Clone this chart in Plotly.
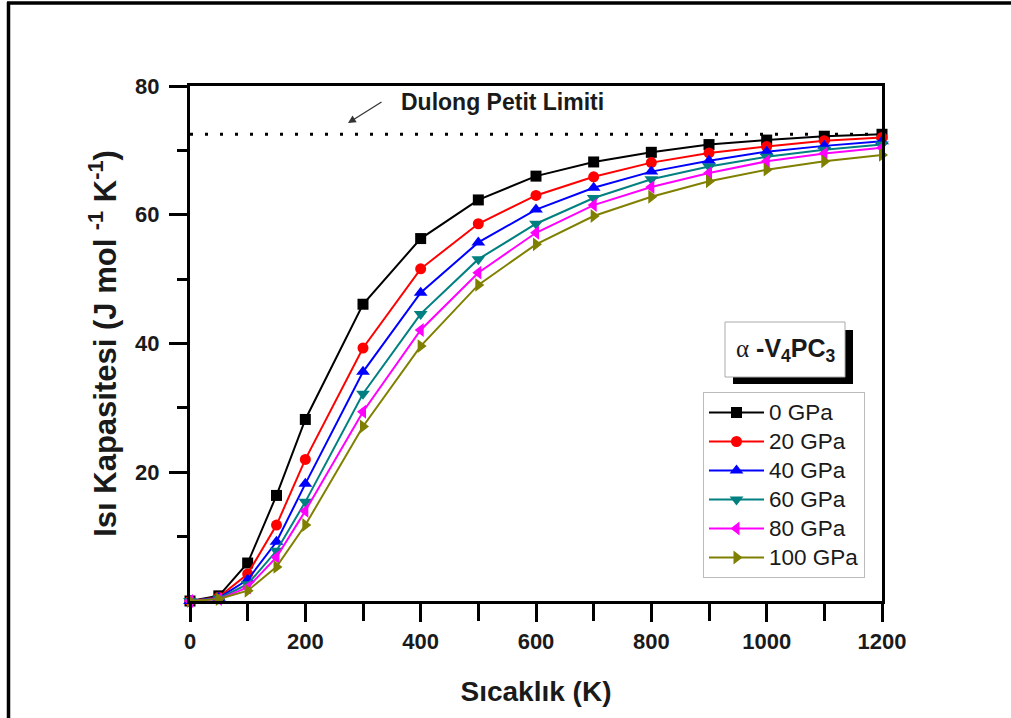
import plotly.graph_objects as go

# Temperature grid (K)
temperature = [0, 50, 100, 150, 200, 300, 400, 500, 600, 700, 800, 900, 1000, 1100, 1200]

# Heat capacity (J mol^-1 K^-1) at each pressure
cv_0gpa = [0, 0.8, 5.9, 16.4, 28.2, 46.1, 56.3, 62.3, 66.0, 68.2, 69.7, 70.9, 71.6, 72.2, 72.5]
cv_20gpa = [0, 0.6, 4.2, 11.8, 22.0, 39.3, 51.6, 58.6, 63.0, 65.9, 68.1, 69.6, 70.6, 71.5, 72.0]
cv_40gpa = [0, 0.5, 3.3, 9.2, 18.2, 35.6, 47.9, 55.7, 60.8, 64.2, 66.7, 68.4, 69.8, 70.7, 71.4]
cv_60gpa = [0, 0.4, 2.6, 7.8, 15.4, 32.2, 44.6, 53.1, 58.6, 62.6, 65.5, 67.5, 69.0, 70.1, 70.9]
cv_80gpa = [0, 0.3, 2.1, 6.8, 14.0, 29.4, 42.1, 51.0, 57.2, 61.5, 64.3, 66.5, 68.3, 69.5, 70.4]
cv_100gpa = [0, 0.3, 1.6, 5.3, 11.8, 27.1, 39.6, 49.1, 55.4, 59.8, 62.8, 65.2, 67.0, 68.3, 69.3]

series_labels = ["0 GPa", "20 GPa", "40 GPa", "60 GPa", "80 GPa", "100 GPa"]
dulong_petit = 72.5

x_tick_vals = [0, 200, 400, 600, 800, 1000, 1200]
x_minor_vals = [100, 300, 500, 700, 900, 1100]
y_tick_vals = [20, 40, 60, 80]
y_minor_vals = [10, 30, 50, 70]

series = [cv_0gpa, cv_20gpa, cv_40gpa, cv_60gpa, cv_80gpa, cv_100gpa]
colors = ["#000000", "#FF0000", "#0000FF", "#008080", "#FF00FF", "#808000"]
symbols = ["square", "circle", "triangle-up", "triangle-down", "triangle-left", "triangle-right"]
sizes = [11, 11, 12, 12, 12, 12]

W, H = 1011, 718
L, R, T, B = 190, 882, 86, 601
FONT = "Liberation Sans, Arial, sans-serif"


def px_x(p):
    return (p - L) / (R - L)


def px_y(p):
    return (B - p) / (B - T)


fig = go.Figure()

fig.add_trace(go.Scatter(
    x=[0, 1200], y=[dulong_petit, dulong_petit], mode="lines",
    line=dict(color="black", width=3, dash="3px,12px"),
    showlegend=False, hoverinfo="skip",
))

for vals, name, c, s, sz in zip(series, series_labels, colors, symbols, sizes):
    fig.add_trace(go.Scatter(
        x=temperature, y=vals,
        name=f'<span style="font-size:22.5px">{name}</span>',
        mode="lines+markers",
        line=dict(color=c, width=2),
        marker=dict(symbol=s, size=sz, color=c, line=dict(width=0)),
        cliponaxis=False,
    ))

axis_common = dict(
    showline=True, linecolor="black", linewidth=3, mirror=True,
    ticks="outside", tickcolor="black", tickwidth=3, ticklen=18,
    showgrid=False, zeroline=False,
    tickfont=dict(family=FONT, size=22, color="#1a1a1a", weight="bold"),
)

fig.update_xaxes(
    range=[0, 1200], tickmode="array", tickvals=x_tick_vals,
    ticklabelstandoff=1,
    minor=dict(tickmode="array", tickvals=x_minor_vals, ticks="outside", ticklen=17,
               tickwidth=3, tickcolor="black"),
    title=dict(text="<b>Sıcaklık (K)</b>", font=dict(family=FONT, size=28, color="#1a1a1a"), standoff=28),
    **axis_common,
)
fig.update_yaxes(
    range=[0, 80], tickmode="array", tickvals=y_tick_vals,
    ticklabelstandoff=5,
    minor=dict(tickmode="array", tickvals=y_minor_vals, ticks="outside", ticklen=10,
               tickwidth=3, tickcolor="black"),
    title=dict(text="<b>Isı Kapasitesi (J mol <sup>-1</sup> K<sup>-1</sup>)</b>",
               font=dict(family=FONT, size=31, color="#1a1a1a"), standoff=10),
    **axis_common,
)

shapes = [
    # outer frame (top and left edges)
    dict(type="line", xref="paper", yref="paper", x0=px_x(7), x1=px_x(1015), y0=px_y(3), y1=px_y(3),
         line=dict(color="black", width=3.5)),
    dict(type="line", xref="paper", yref="paper", x0=px_x(8.5), x1=px_x(8.5), y0=px_y(2), y1=px_y(722),
         line=dict(color="black", width=3.5)),
    # compound label box with drop shadow
    dict(type="rect", xref="paper", yref="paper", x0=px_x(733), x1=px_x(853), y0=px_y(330), y1=px_y(384),
         fillcolor="black", line=dict(width=0), layer="above"),
    dict(type="rect", xref="paper", yref="paper", x0=px_x(725), x1=px_x(845), y0=px_y(322), y1=px_y(377),
         fillcolor="white", line=dict(color="#aaaaaa", width=1), layer="above"),
]

annotations = [
    dict(xref="paper", yref="paper", x=px_x(786), y=px_y(350),
         text='<span style="font-family:Liberation Serif, Times New Roman, serif">α</span>'
              '<b> -V<sub>4</sub>PC<sub>3</sub></b>',
         showarrow=False, font=dict(family=FONT, size=25, color="#1a1a1a"),
         xanchor="center", yanchor="middle"),
    dict(xref="paper", yref="paper", x=px_x(502), y=px_y(102),
         text="<b>Dulong Petit Limiti</b>", showarrow=False,
         font=dict(family=FONT, size=23, color="#1a1a1a"), xanchor="center", yanchor="middle"),
    dict(xref="paper", yref="paper", x=px_x(348), y=px_y(123), text="",
         showarrow=True, arrowhead=2, arrowsize=1.3, arrowwidth=1.2, arrowcolor="#333333",
         ax=35, ay=-22),
]

fig.update_layout(
    width=W, height=H,
    margin=dict(l=L, r=W - R, t=T, b=H - B),
    paper_bgcolor="white", plot_bgcolor="white",
    shapes=shapes, annotations=annotations,
    showlegend=True,
    legend=dict(
        x=px_x(703), y=px_y(392), xanchor="left", yanchor="top",
        bordercolor="#bbbbbb", borderwidth=1, bgcolor="white",
        font=dict(family=FONT, size=20, color="#1a1a1a"),
        itemwidth=55, tracegroupgap=0,
    ),
)

fig.write_html("out.html")
